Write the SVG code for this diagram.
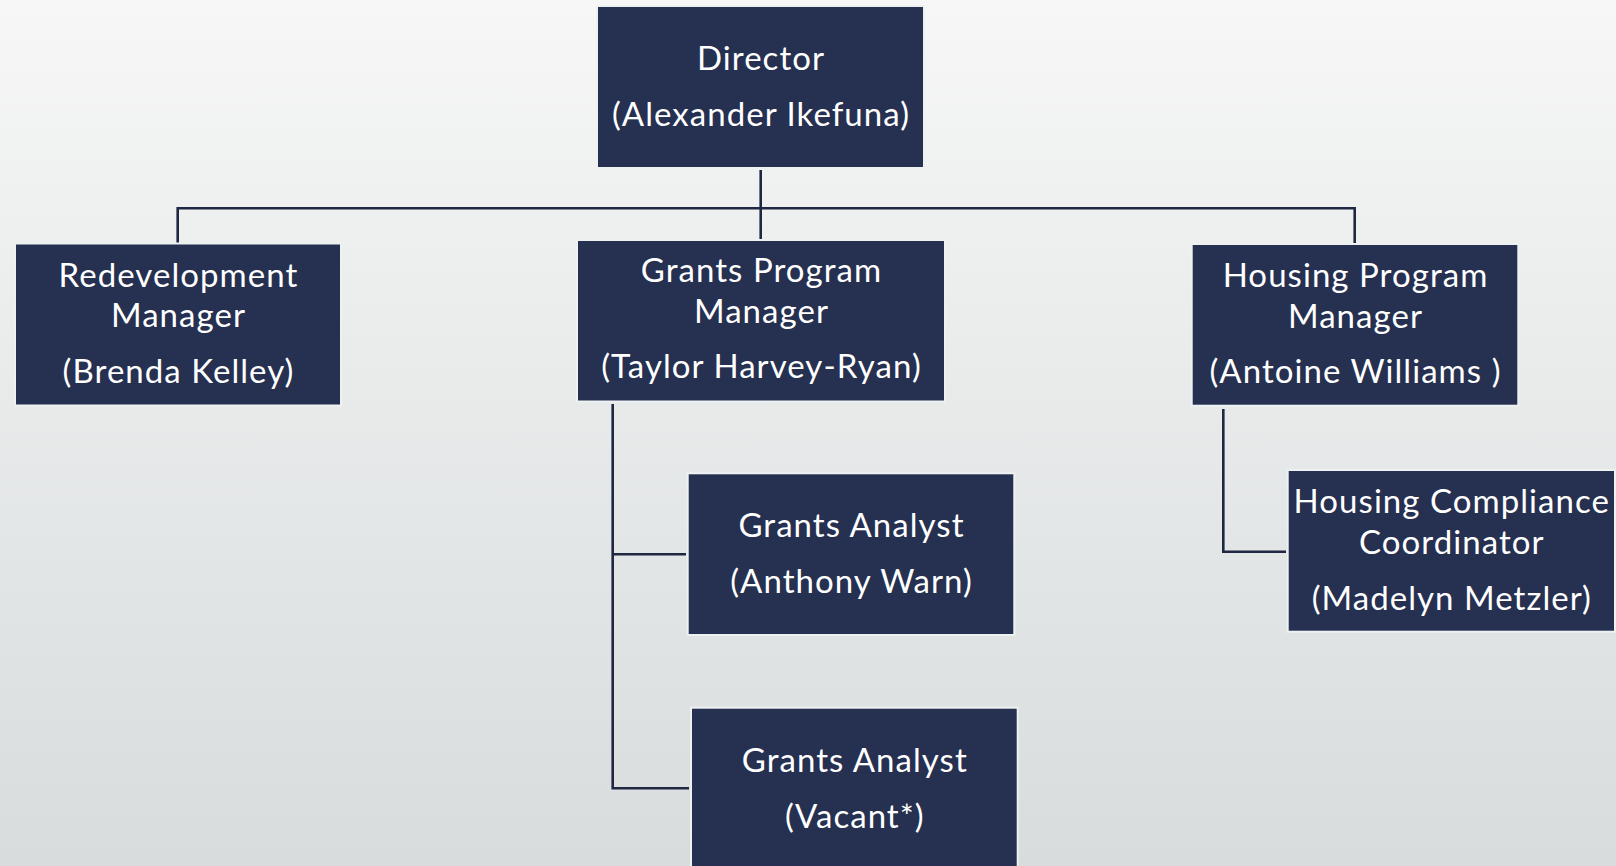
<svg xmlns="http://www.w3.org/2000/svg" width="1616" height="866" viewBox="0 0 1616 866">
<defs>
<linearGradient id="bg" x1="0" y1="0" x2="0" y2="1">
<stop offset="0" stop-color="#f6f7f6"/>
<stop offset="1" stop-color="#d8dcdd"/>
</linearGradient>
</defs>
<style>
.box{fill:#263050;stroke:#eef1f2;stroke-width:2}
.t{font-family:Lato,"Open Sans",sans-serif;font-size:33px;letter-spacing:1.05px;fill:#ffffff;text-anchor:middle}
.ln{fill:none;stroke:#1f2743;stroke-width:2.6}
</style>
<rect x="0" y="0" width="1616" height="866" fill="url(#bg)"/>
<g id="connectors">
<path class="ln" d="M760.7 170 V240"/>
<path class="ln" d="M177.7 243 V208.3 H1354.7 V244"/>
<path class="ln" d="M612.7 404 V788.3 H689"/>
<path class="ln" d="M612.7 554.3 H686"/>
<path class="ln" d="M1223.3 409 V551.7 H1286"/>
</g>
<g id="director">
<rect class="box" x="597" y="6" width="327" height="162"/>
<text class="t" x="761" y="70">Director</text>
<text class="t" x="761" y="126">(Alexander Ikefuna)</text>
</g>
<g id="redevelopment-manager">
<rect class="box" x="15" y="243.5" width="326" height="162"/>
<text class="t" x="178.5" y="286.7">Redevelopment</text>
<text class="t" x="178.5" y="327">Manager</text>
<text class="t" x="178.5" y="383">(Brenda Kelley)</text>
</g>
<g id="grants-program-manager">
<rect class="box" x="577" y="240" width="368" height="161.5"/>
<text class="t" x="761.5" y="281.7">Grants Program</text>
<text class="t" x="761.5" y="322.7">Manager</text>
<text class="t" x="761.5" y="378.3">(Taylor Harvey-Ryan)</text>
</g>
<g id="housing-program-manager">
<rect class="box" x="1191.7" y="244" width="326.6" height="161.7"/>
<text class="t" x="1355.5" y="286.7">Housing Program</text>
<text class="t" x="1355.5" y="327.7">Manager</text>
<text class="t" x="1355.5" y="383.3">(Antoine Williams )</text>
</g>
<g id="housing-compliance-coordinator">
<rect class="box" x="1287.7" y="470" width="327.3" height="161.7"/>
<text class="t" x="1451.8" y="513.3">Housing Compliance</text>
<text class="t" x="1451.8" y="554">Coordinator</text>
<text class="t" x="1451.8" y="610">(Madelyn Metzler)</text>
</g>
<g id="grants-analyst-1">
<rect class="box" x="687.7" y="473.3" width="326.6" height="161.7"/>
<text class="t" x="851.5" y="537.3">Grants Analyst</text>
<text class="t" x="851.5" y="593.3">(Anthony Warn)</text>
</g>
<g id="grants-analyst-2">
<rect class="box" x="691" y="707.7" width="326.7" height="170"/>
<text class="t" x="854.8" y="771.7">Grants Analyst</text>
<text class="t" x="854.8" y="828.3">(Vacant*)</text>
</g>
</svg>
